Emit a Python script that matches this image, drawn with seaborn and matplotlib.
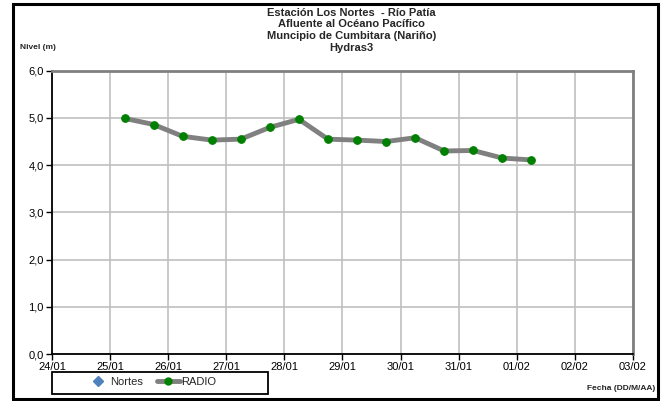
import pandas as pd
import seaborn as sns
import matplotlib.pyplot as plt
import matplotlib.dates as mdates
from matplotlib.lines import Line2D
from matplotlib.patches import Rectangle

# Data (one reading every 12 h)
start_time = "2009-01-25 06:00"
n_readings = 15
radio_levels = [4.99, 4.86, 4.61, 4.53, 4.55, 4.80, 4.97, 4.55,
                4.53, 4.50, 4.58, 4.30, 4.31, 4.15, 4.11]
title_lines = ["Estación Los Nortes  - Río Patía",
               "Afluente al Océano Pacífico",
               "Muncipio de Cumbitara (Nariño)",
               "Hydras3"]

if __name__ == "__main__":
    data = pd.DataFrame({
        "fecha": pd.date_range(start_time, periods=n_readings, freq="12h"),
        "nivel": radio_levels,
    })

    sns.set_style("white")
    plt.rcParams['font.family'] = ['Liberation Sans', 'DejaVu Sans']

    fig = plt.figure(figsize=(6.63, 4.01), dpi=100)
    ax = fig.add_axes([0.0784, 0.1172, 0.8763, 0.7065])

    # RADIO series: thick grey line with green markers
    sns.lineplot(data=data, x="fecha", y="nivel", ax=ax, color="#808080",
                 linewidth=3.5, solid_joinstyle="round", solid_capstyle="round",
                 marker="o", markersize=5.5, markerfacecolor="#008000",
                 markeredgecolor="#008000", legend=False)

    # Axes limits and ticks
    ax.set_xlim(pd.Timestamp("2009-01-24"), pd.Timestamp("2009-02-03"))
    ax.set_ylim(0, 6)
    ax.xaxis.set_major_locator(mdates.DayLocator())
    ax.xaxis.set_major_formatter(mdates.DateFormatter("%d/%m"))
    ax.set_yticks(range(0, 7))
    ax.set_yticklabels([f"{v},0" for v in range(0, 7)])
    ax.tick_params(axis="both", labelsize=8, direction="out", length=4,
                   width=1, colors="black", pad=2, left=True, bottom=True)

    ax.grid(True, color="#c0c0c0", linewidth=1.2)
    ax.set_xlabel("")
    ax.set_ylabel("")

    # Spines: black left/bottom, grey top/right
    ax.spines["left"].set_color("black")
    ax.spines["bottom"].set_color("black")
    ax.spines["left"].set_linewidth(1.3)
    ax.spines["bottom"].set_linewidth(1.3)
    for side in ["top", "right"]:
        ax.spines[side].set_color("#808080")
        ax.spines[side].set_linewidth(2)

    # Title and axis captions
    for i, line in enumerate(title_lines):
        fig.text(0.53, 0.968 - i * 0.029, line, ha="center", va="center",
                 fontsize=8, fontweight="bold")
    fig.text(0.03, 0.882, "Nivel (m)", ha="left", va="center",
             fontsize=6, fontweight="bold")
    fig.text(0.988, 0.032, "Fecha (DD/M/AA)", ha="right", va="center",
             fontsize=6, fontweight="bold")

    # Legend below the plot, with its own frame
    handles = [
        Line2D([], [], linestyle="none", marker="D", markersize=5,
               color="#4f81bd", label="Nortes"),
        Line2D([], [], color="#808080", linewidth=3.5, marker="o",
               markersize=5, markerfacecolor="#008000",
               markeredgecolor="#008000", label="RADIO"),
    ]
    fig.legend(handles=handles, ncol=2, loc="center",
               bbox_to_anchor=(0.228, 0.047),
               bbox_transform=fig.transFigure,
               fontsize=8, frameon=False,
               handlelength=2.0, handletextpad=0.1, borderpad=0.0,
               columnspacing=1.3)
    fig.patches.append(Rectangle((0.0784, 0.0175), 0.326, 0.0549,
                                 transform=fig.transFigure, fill=False,
                                 edgecolor="black", linewidth=1.3))

    # Outer black border around the chart area
    fig.patches.append(Rectangle((0.019, 0.006), 0.973, 0.984,
                                 transform=fig.transFigure, fill=False,
                                 edgecolor="black", linewidth=2.2))

    plt.savefig("out.png", dpi=100)
